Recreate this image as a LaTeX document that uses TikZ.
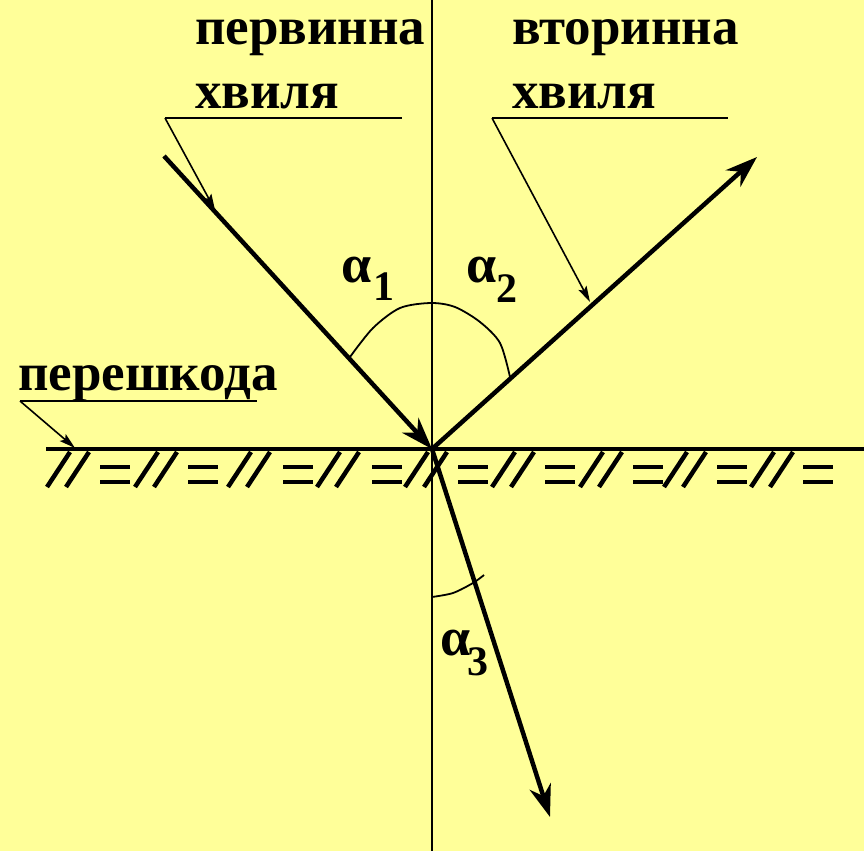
\documentclass[tikz,border=0pt]{standalone}
\usepackage{fontspec}
\setmainfont{Liberation Serif}
\usetikzlibrary{arrows.meta}
\definecolor{bg}{RGB}{255,255,153}
\begin{document}
\begin{tikzpicture}[x=1pt,y=-1pt,
  ray/.style={line width=4.5pt,-{Stealth[length=32pt,width=22pt,inset=10pt]}},
  thinl/.style={line width=1.8pt},
  leader/.style={line width=1.6pt,-{Stealth[length=16pt,width=9pt,inset=3pt]}},
  lbl/.style={font=\fontsize{53}{56}\selectfont\bfseries, inner sep=0pt, anchor=base west},
  alph/.style={font=\fontsize{54}{56}\selectfont\bfseries, inner sep=0pt, anchor=base west},
  subs/.style={font=\fontsize{42}{44}\selectfont\bfseries, inner sep=0pt, anchor=base west},
  hatch/.style={line width=4.5pt}
]
\fill[bg] (0,0) rectangle (864,851);
\useasboundingbox (0,0) rectangle (864,851);

% key points
\coordinate (O) at (432,449);
\coordinate (vT) at (432,0);
\coordinate (vB) at (432,851);
\coordinate (hL) at (46,449);
\coordinate (hR) at (864,449);
\coordinate (inS) at (164,156);
\coordinate (refE) at (757,157);
\coordinate (trE) at (550,817);

% normal and boundary
\draw[thinl] (vT) -- (vB);
\draw[line width=4.5pt] (hL) -- (hR);

% hatching
\foreach \x in {47,135,228,317,405,492,580,664,751}{
  \draw[hatch] (\x,487) -- ++(23,-35);
  \draw[hatch] (\x+19,487) -- ++(23,-35);
}
\foreach \x in {100,188,283,372,458,545,633,717,803}{
  \draw[hatch] (\x,467) -- ++(30,0);
  \draw[hatch] (\x,482) -- ++(30,0);
}

% rays
\draw[ray] (inS) -- (O);
\draw[ray] (O) -- (refE);
\draw[ray] (O) -- (trE);

% angle arcs
\draw[thinl] plot[smooth] coordinates {(350,357) (373,328) (400,308) (431,303) (455,307) (480,322) (500,343) (510,377)};
\draw[thinl] plot[smooth] coordinates {(432,597) (453,593) (473,583) (484,575)};

% labels
\node[lbl] (t1a) at (195,45) {первинна};
\node[lbl] (t1b) at (195,108) {хвиля};
\node[lbl] (t2a) at (512,45) {вторинна};
\node[lbl] (t2b) at (512,108) {хвиля};
\node[lbl] (t3) at (18,390) {перешкода};

\node[alph] (a1) at (341,282) {α};
\node[subs] (s1) at (373,300) {1};
\node[alph] (a2) at (466,282) {α};
\node[subs] (s2) at (496,302) {2};
\node[alph] (a3) at (440,655) {α};
\node[subs] (s3) at (467,675) {3};

% leaders
\coordinate (l1s) at (165,118);
\coordinate (l1e) at (402,118);
\coordinate (l1t) at (215,210);
\coordinate (l2s) at (492,118);
\coordinate (l2e) at (728,118);
\coordinate (l2t) at (590,302);
\coordinate (l3s) at (20,401);
\coordinate (l3e) at (257,401);
\coordinate (l3t) at (75,448);
\draw[thinl] (l1s) -- (l1e);
\draw[leader] (l1s) -- (l1t);
\draw[thinl] (l2s) -- (l2e);
\draw[leader] (l2s) -- (l2t);
\draw[thinl] (l3s) -- (l3e);
\draw[leader] (l3s) -- (l3t);
\end{tikzpicture}
\end{document}
